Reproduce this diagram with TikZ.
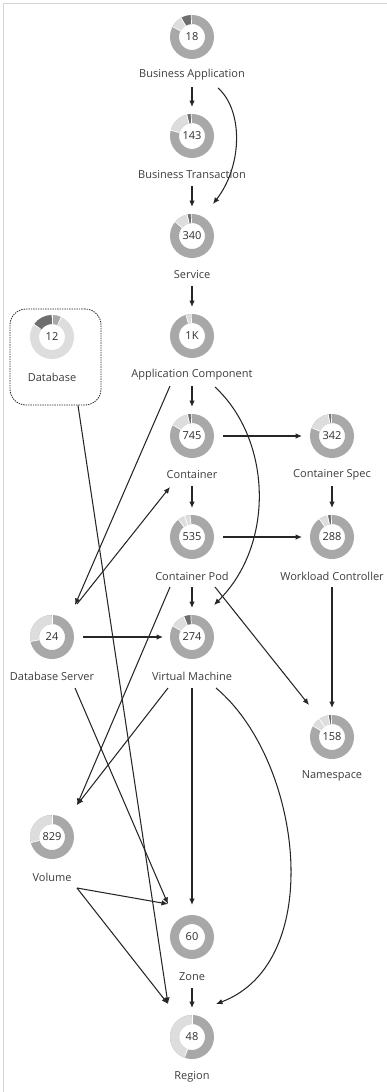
\documentclass[tikz,border=0pt]{standalone}
\usepackage{fontspec}
\setmainfont{Open Sans}
\usetikzlibrary{arrows.meta,calc}
\definecolor{midg}{HTML}{A8A8A8}
\definecolor{lightg}{HTML}{DDDDDD}
\definecolor{darkg}{HTML}{6E6E6E}
\definecolor{linec}{HTML}{262626}
\definecolor{textc}{HTML}{3C3C3C}
\definecolor{numc}{HTML}{2E2E2E}
\definecolor{framec}{HTML}{D4D4D4}
\newcommand\ring[3]{%
  \draw[#2, line width=9pt] (#1.center) circle[radius=17.5];
  \foreach \c/\a/\b in {#3} {
    \draw[\c, line width=9pt] ([shift={(-\a:17.5)}]#1.center) arc[start angle=-\a, end angle=-\b, radius=17.5];
    \draw[white, line width=0.7pt] ([shift={(-\a:13)}]#1.center) -- ([shift={(-\a:22)}]#1.center);
    \draw[white, line width=0.7pt] ([shift={(-\b:13)}]#1.center) -- ([shift={(-\b:22)}]#1.center);
  }}
\begin{document}
\begin{tikzpicture}[x=1pt,y=-1pt,
  donut/.style={circle, minimum size=44pt, inner sep=0pt, text=numc, font=\fontsize{11}{13}\selectfont},
  lab/.style={text=textc, font=\fontsize{11}{13}\selectfont, inner sep=1pt},
  arr/.style={draw=linec, line width=1.05pt, -{Latex[length=6.5pt,width=5.5pt]}},
  dbbox/.style={draw=linec, line width=0.8pt, dash pattern=on 1.4pt off 1pt, rounded corners=16pt, minimum width=91pt, minimum height=96pt, inner sep=0pt}]
\useasboundingbox (0,0) rectangle (387,1092);
\draw[framec, line width=1pt] (3,1092) -- (3,3) -- (387,3);

% nodes
\node[donut] (ba) at (192,37) {18};   \node[lab] (bal) at (192,75) {Business Application};
\node[donut] (bt) at (192,136) {143}; \node[lab] (btl) at (192,175) {Business Transaction};
\node[donut] (sv) at (192,236) {340}; \node[lab] (svl) at (192,275) {Service};
\node[donut] (ac) at (192,336) {1K};  \node[lab] (acl) at (192,375) {Application Component};
\node[dbbox] (dbb) at (55.5,357) {};
\node[donut] (db) at (52,337) {12};   \node[lab] (dbl) at (52,377) {Database};
\node[donut] (ct) at (192,436) {745}; \node[lab] (ctl) at (192,475) {Container};
\node[donut] (cs) at (332,436) {342}; \node[lab] (csl) at (332,475) {Container Spec};
\node[donut] (cp) at (192,537) {535}; \node[lab] (cpl) at (192,576) {Container Pod};
\node[donut] (wc) at (332,537) {288}; \node[lab] (wcl) at (332,576) {Workload Controller};
\node[donut] (ds) at (52,637) {24};   \node[lab] (dsl) at (52,676) {Database Server};
\node[donut] (vm) at (192,637) {274}; \node[lab] (vml) at (192,676) {Virtual Machine};
\node[donut] (ns) at (332,737) {158}; \node[lab] (nsl) at (332,776) {Namespace};
\node[donut] (vo) at (52,837) {829};  \node[lab] (vol) at (52,877) {Volume};
\node[donut] (zo) at (192,937) {60};  \node[lab] (zol) at (192,977) {Zone};
\node[donut] (rg) at (192,1037) {48}; \node[lab] (rgl) at (192,1077) {Region};

% rings
\ring{ba}{midg}{darkg/92/120, lightg/120/152}
\ring{bt}{midg}{darkg/92/104, lightg/104/165}
\ring{sv}{midg}{darkg/92/103, lightg/103/140}
\ring{ac}{midg}{lightg/92/106}
\ring{db}{lightg}{midg/65/90, darkg/90/145}
\ring{ct}{midg}{darkg/92/102, lightg/102/150}
\ring{cs}{midg}{darkg/92/100, lightg/100/158}
\ring{cp}{midg}{lightg/95/110, lightg/110/128}
\ring{wc}{midg}{darkg/92/102, lightg/102/125}
\ring{ds}{midg}{lightg/90/192}
\ring{vm}{midg}{darkg/93/112, lightg/112/150}
\ring{ns}{midg}{darkg/92/100, lightg/100/125, lightg/125/150}
\ring{vo}{midg}{lightg/90/195}
\draw[midg, line width=9pt] (zo.center) circle[radius=17.5];
\ring{rg}{midg}{lightg/90/250}

% connectors
\draw[arr] ([shift={(0,50)}]ba.center) -- ([shift={(0,-29)}]bt.center);
\draw[arr] ([shift={(26,51)}]ba.center) .. controls ([shift={(51,73)}]ba.center) and ([shift={(51,-71)}]sv.center) .. ([shift={(21,-32)}]sv.center);
\draw[arr] ([shift={(0,50)}]bt.center) -- ([shift={(0,-29)}]sv.center);
\draw[arr] ([shift={(0,50)}]sv.center) -- ([shift={(0,-29)}]ac.center);
\draw[arr] ([shift={(0,50)}]ac.center) -- ([shift={(0,-29)}]ct.center);
\draw[arr] ([shift={(-22,50)}]ac.center) -- ([shift={(23,-32)}]ds.center);
\draw[arr] ([shift={(23,51)}]ac.center) .. controls ([shift={(80,104)}]ac.center) and ([shift={(83,-92)}]vm.center) .. ([shift={(22,-32)}]vm.center);
\draw[arr] ([shift={(31,0)}]ct.center) -- ([shift={(-30,0)}]cs.center);
\draw[arr] ([shift={(0,50)}]ct.center) -- ([shift={(0,-29)}]cp.center);
\draw[arr] ([shift={(0,50)}]cs.center) -- ([shift={(0,-29)}]wc.center);
\draw[arr] ([shift={(31,0)}]cp.center) -- ([shift={(-30,0)}]wc.center);
\draw[arr] ([shift={(25,-33)}]ds.center) -- ([shift={(-22,51)}]ct.center);
\draw[arr] ([xshift=22.5pt]dbb.south) -- ([shift={(-24,-33)}]rg.center);
\draw[arr] ([shift={(0,50)}]cp.center) -- ([shift={(0,-29)}]vm.center);
\draw[arr] ([shift={(-22,50)}]cp.center) -- ([shift={(25,-32)}]vo.center);
\draw[arr] ([shift={(23,50)}]cp.center) -- ([shift={(-23,-32)}]ns.center);
\draw[arr] ([shift={(0,50)}]wc.center) -- ([shift={(0,-29)}]ns.center);
\draw[arr] ([shift={(31,0)}]ds.center) -- ([shift={(-29,0)}]vm.center);
\draw[arr] ([shift={(23,51)}]ds.center) -- ([shift={(-24,-33)}]zo.center);
\draw[arr] ([shift={(-24,51)}]vm.center) -- ([shift={(25,-32)}]vo.center);
\draw[arr] ([shift={(0,51)}]vm.center) -- ([shift={(0,-32)}]zo.center);
\draw[arr] ([shift={(24,51)}]vm.center) .. controls ([shift={(110,123)}]vm.center) and ([shift={(135,-75)}]rg.center) .. ([shift={(24,-33)}]rg.center);
\draw[arr] ([shift={(25,51)}]vo.center) -- ([shift={(-24,-33)}]zo.center);
\draw[arr] ([shift={(25,51)}]vo.center) -- ([shift={(-24,-33)}]rg.center);
\draw[arr] ([shift={(0,51)}]zo.center) -- ([shift={(0,-29)}]rg.center);
\end{tikzpicture}
\end{document}
